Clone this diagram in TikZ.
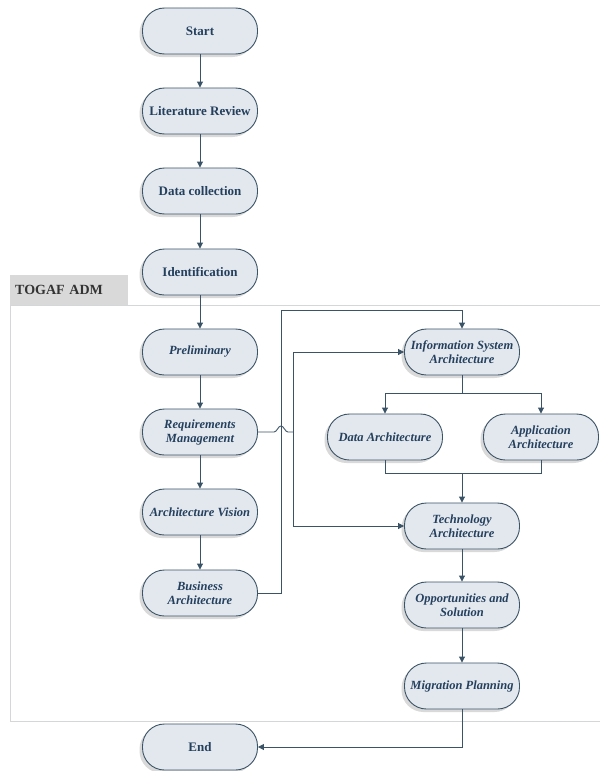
\documentclass[tikz,border=0pt]{standalone}
\usepackage{fontspec}
\setmainfont{Liberation Serif}
\usetikzlibrary{arrows.meta,shadows}
\definecolor{admLine}{HTML}{3B5366}
\definecolor{admFill}{HTML}{E3E8EF}
\definecolor{admText}{HTML}{24405D}
\definecolor{admFrame}{HTML}{D4D6D8}
\definecolor{admTab}{HTML}{D9D9D9}
\begin{document}
\begin{tikzpicture}[x=1pt, y=-1pt,
    admStep/.style={draw=admLine, fill=admFill, line width=0.9pt, rounded corners=22pt,
        minimum width=115pt, minimum height=46pt, align=center, inner sep=1pt,
        text=admText, font=\fontsize{13}{14}\selectfont\bfseries,
        drop shadow={shadow xshift=-3pt, shadow yshift=-3pt, opacity=0.25, fill=black!60}},
    admPhase/.style={admStep, font=\fontsize{12.5}{14}\selectfont\bfseries\itshape},
    admArrow/.style={-{Triangle[length=6pt, width=6pt]}, draw=admLine, line width=0.9pt},
    admLink/.style={draw=admLine, line width=0.9pt}]
    \useasboundingbox (0,0) rectangle (600,771);

    % TOGAF ADM frame
    \draw[admFrame, line width=1pt] (600,305) -- (10,305) -- (10,721) -- (600,721);
    \node[fill=admTab, anchor=north west, minimum width=118pt, minimum height=30pt,
        inner sep=0pt, text width=108pt, align=left, text=black!80,
        font=\fontsize{14}{15}\selectfont\bfseries] (togafTab) at (10,275) {TOGAF ADM};

    % Research steps
    \node[admStep] (startN) at (200,31) {Start};
    \node[admStep] (litRev) at (200,111) {Literature Review};
    \node[admStep] (dataCol) at (200,191) {Data collection};
    \node[admStep] (ident) at (200,272) {Identification};

    % ADM phases (left)
    \node[admPhase] (prelim) at (200,352) {Preliminary};
    \node[admPhase] (reqMgmt) at (200,432) {Requirements\\Management};
    \node[admPhase] (archVis) at (200,512) {Architecture Vision};
    \node[admPhase] (busArch) at (200,593) {Business\\Architecture};
    \node[admStep] (endN) at (200,747) {End};

    % ADM phases (right)
    \node[admPhase] (infoSys) at (462,352) {Information System\\Architecture};
    \node[admPhase] (dataArch) at (385,437) {Data Architecture};
    \node[admPhase] (appArch) at (541,437) {Application\\Architecture};
    \node[admPhase] (techArch) at (462,526) {Technology\\Architecture};
    \node[admPhase] (oppSol) at (462,605) {Opportunities and\\Solution};
    \node[admPhase] (migPlan) at (462,686) {Migration Planning};

    \coordinate (busUp) at (281,310);
    \coordinate (hopL) at (274,432);
    \coordinate (reqJoin) at (293,432);
    \coordinate (isSplit) at (462,393);
    \coordinate (taMerge) at (462,473);

    \draw[admArrow] (startN) -- (litRev);
    \draw[admArrow] (litRev) -- (dataCol);
    \draw[admArrow] (dataCol) -- (ident);
    \draw[admArrow] (ident) -- (prelim);
    \draw[admArrow] (prelim) -- (reqMgmt);
    \draw[admArrow] (reqMgmt) -- (archVis);
    \draw[admArrow] (archVis) -- (busArch);

    \draw[admArrow] (busArch.east) -| (busUp) -| (infoSys.north);
    \draw[admLink] (reqMgmt.east) -- (hopL) .. controls (277,432) and (278,426) .. (281,426)
        .. controls (284,426) and (285,432) .. (288,432) -- (reqJoin);
    \draw[admArrow] (reqJoin) |- (infoSys.west);
    \draw[admArrow] (reqJoin) |- (techArch.west);

    \draw[admLink] (infoSys.south) -- (isSplit);
    \draw[admArrow] (isSplit) -| (dataArch.north);
    \draw[admArrow] (isSplit) -| (appArch.north);
    \draw[admLink] (dataArch.south) |- (taMerge);
    \draw[admLink] (appArch.south) |- (taMerge);
    \draw[admArrow] (taMerge) -- (techArch.north);
    \draw[admArrow] (techArch) -- (oppSol);
    \draw[admArrow] (oppSol) -- (migPlan);
    \draw[admArrow] (migPlan.south) |- (endN.east);
\end{tikzpicture}
\end{document}
